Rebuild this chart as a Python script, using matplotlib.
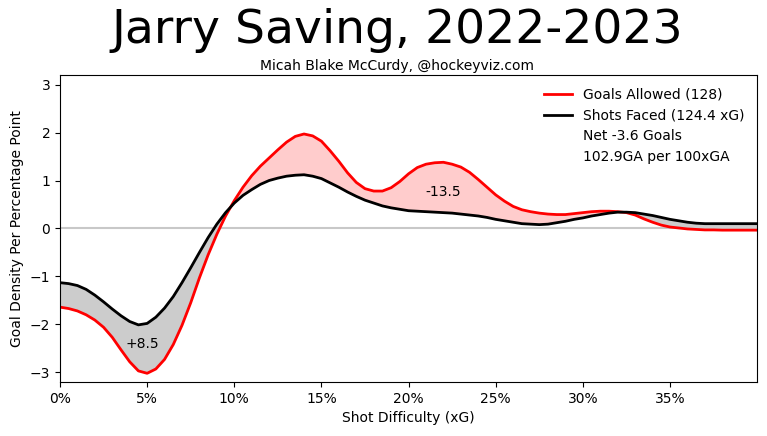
import numpy as np
import matplotlib.pyplot as plt
from matplotlib.lines import Line2D
from matplotlib.ticker import FuncFormatter

# shot difficulty, 0.5% steps
xg = np.arange(0, 81) * 0.005

goals_allowed = [-1.64, -1.67, -1.72, -1.80, -1.91, -2.06, -2.27, -2.53, -2.78, -2.97,
                 -3.02, -2.93, -2.73, -2.42, -2.02, -1.55, -1.03, -0.55, -0.12, 0.26,
                 0.58, 0.86, 1.10, 1.30, 1.47, 1.64, 1.80, 1.92, 1.97, 1.93,
                 1.82, 1.62, 1.40, 1.16, 0.96, 0.83, 0.78, 0.78, 0.85, 0.98,
                 1.14, 1.27, 1.34, 1.37, 1.38, 1.34, 1.28, 1.17, 1.02, 0.86,
                 0.70, 0.57, 0.46, 0.39, 0.35, 0.32, 0.30, 0.29, 0.29, 0.31,
                 0.33, 0.35, 0.36, 0.36, 0.35, 0.33, 0.28, 0.20, 0.13, 0.07,
                 0.03, 0.01, -0.01, -0.02, -0.03, -0.03, -0.035, -0.035, -0.035, -0.035,
                 -0.035]
shots_faced = [-1.13, -1.15, -1.19, -1.27, -1.39, -1.53, -1.68, -1.82, -1.94, -2.01,
               -1.98, -1.85, -1.66, -1.42, -1.13, -0.82, -0.50, -0.19, 0.09, 0.33,
               0.53, 0.69, 0.81, 0.92, 1.00, 1.05, 1.09, 1.11, 1.12, 1.09,
               1.04, 0.95, 0.86, 0.76, 0.67, 0.59, 0.53, 0.47, 0.43, 0.40,
               0.37, 0.36, 0.35, 0.34, 0.33, 0.32, 0.30, 0.28, 0.26, 0.23,
               0.19, 0.16, 0.13, 0.10, 0.09, 0.08, 0.09, 0.12, 0.15, 0.19,
               0.22, 0.26, 0.29, 0.32, 0.34, 0.34, 0.33, 0.30, 0.27, 0.23,
               0.19, 0.16, 0.13, 0.11, 0.10, 0.10, 0.10, 0.10, 0.10, 0.10,
               0.10]

ga = np.array(goals_allowed)
sf = np.array(shots_faced)

fig = plt.figure(figsize=(7.67, 4.36), dpi=100)
ax = fig.add_axes([0.0782, 0.124, 0.909, 0.704])

ax.axhline(0, color='#c8c8c8', lw=1.5, zorder=1)
ax.fill_between(xg, ga, sf, where=ga >= sf, interpolate=True, color='#ffcccc', lw=0)
ax.fill_between(xg, ga, sf, where=ga <= sf, interpolate=True, color='#cccccc', lw=0)
ax.plot(xg, ga, color='red', lw=2)
ax.plot(xg, sf, color='black', lw=2)

ax.text(0.047, -2.4, '+8.5', ha='center', va='center', fontsize=10)
ax.text(0.22, 0.77, '-13.5', ha='center', va='center', fontsize=10)

ax.set_xlim(0, 0.40)
ax.set_ylim(-3.2, 3.2)
ax.set_xticks(np.arange(0, 0.36, 0.05))
ax.xaxis.set_major_formatter(FuncFormatter(lambda v, p: '%d%%' % round(v * 100)))
ax.set_yticks([-3, -2, -1, 0, 1, 2, 3])
ax.set_xlabel('Shot Difficulty (xG)')
ax.set_ylabel('Goal Density Per Percentage Point')

handles = [Line2D([], [], color='red', lw=2),
           Line2D([], [], color='black', lw=2),
           Line2D([], [], color='none'),
           Line2D([], [], color='none')]
labels = ['Goals Allowed (128)', 'Shots Faced (124.4 xG)',
          'Net -3.6 Goals', '102.9GA per 100xGA']
ax.legend(handles, labels, loc='upper right', frameon=False)

fig.text(0.518, 0.93, 'Jarry Saving, 2022-2023', ha='center', va='center', fontsize=34)
fig.text(0.518, 0.848, 'Micah Blake McCurdy, @hockeyviz.com', ha='center', va='center', fontsize=10)

fig.savefig('out.png', dpi=100)
